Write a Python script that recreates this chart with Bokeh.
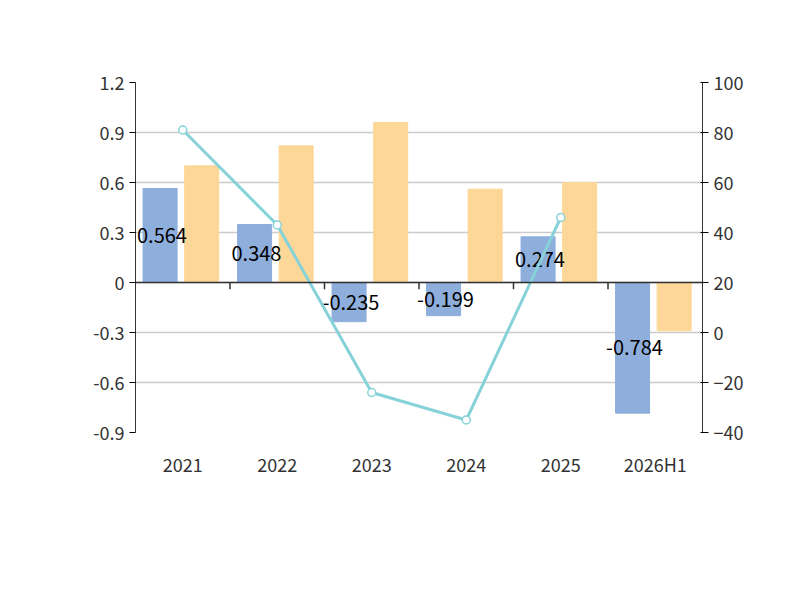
from bokeh.plotting import figure
from bokeh.models import Range1d, LinearAxis, Legend, LegendItem, FixedTicker, Label, ColumnDataSource, Span
from bokeh.embed import file_html
from bokeh.resources import INLINE
from bokeh.core.properties import value

years = ["2021", "2022", "2023", "2024", "2025", "2026H1"]
cashflow = [0.564, 0.348, -0.235, -0.199, 0.274, -0.784]
profit = [0.70, 0.82, 0.96, 0.56, 0.60, -0.29]
ratio = [81, 43, -24, -35, 46]

F = "Noto Sans CJK SC"
x = list(range(len(years)))
p = figure(frame_width=567, frame_height=350, output_backend="svg", toolbar_location=None,
           x_range=Range1d(-0.5, 5.5), y_range=Range1d(-0.9, 1.2),
           min_border_left=135, min_border_right=82, min_border_top=82, min_border_bottom=152)
p.extra_y_ranges = {"pct": Range1d(-40, 100)}
p.outline_line_color = None
p.xgrid.grid_line_color = None
p.ygrid.grid_line_color = "#cccccc"
p.ygrid.grid_line_width = 1.5
p.yaxis.ticker = FixedTicker(ticks=[-0.9, -0.6, -0.3, 0, 0.3, 0.6, 0.9, 1.2])
p.yaxis.major_label_overrides = {-0.9: "-0.9", -0.6: "-0.6", -0.3: "-0.3", 0: "0", 0.3: "0.3", 0.6: "0.6", 0.9: "0.9", 1.2: "1.2"}
p.xaxis.ticker = FixedTicker(ticks=x)
p.xaxis.major_label_overrides = {i: y for i, y in enumerate(years)}
p.xaxis.major_tick_line_color = None
ra = LinearAxis(y_range_name="pct", ticker=FixedTicker(ticks=[-40, -20, 0, 20, 40, 60, 80, 100]))
p.add_layout(ra, "right")
for ax in [p.yaxis[0], ra, p.xaxis[0]]:
    ax.major_label_text_font = F
    ax.major_label_text_font_size = "18px"
    ax.major_label_text_color = "#333333"
    ax.axis_line_color = "#333333"
    ax.minor_tick_line_color = None
p.xaxis[0].axis_line_color = None
p.xaxis[0].major_label_standoff = 12
p.yaxis[0].major_tick_out = 6
p.yaxis[0].major_tick_in = 0
ra.major_tick_out = 6

src = ColumnDataSource(dict(xc=[i - 0.24 for i in x], xp=[i + 0.2 for i in x], cf=cashflow, pr=profit,
                            ym=[c / 2 for c in cashflow], lbl=[str(c) for c in cashflow], xl=[i - 0.22 for i in x]))
b1 = p.vbar(x="xc", top="cf", bottom=0, width=0.36, color="#8eaedc", source=src)
b2 = p.vbar(x="xp", top="pr", bottom=0, width=0.36, color="#fdd797", source=src)
p.add_layout(Span(location=0, dimension="width", line_color="#333333", line_width=1.5))
p.segment(x0=[i + 0.5 for i in range(5)], x1=[i + 0.5 for i in range(5)], y0=[0] * 5, y1=[-0.04] * 5, line_color="#333333", line_width=1.5)
p.text(x="xl", y="ym", text="lbl", source=src, text_align="center", text_baseline="middle",
       text_font=value(F), text_font_size="20px", text_color="#000000")
l1 = p.line(x[:5], ratio, y_range_name="pct", line_color="#86d2d8", line_width=3)
s1 = p.scatter(x[:5], ratio, y_range_name="pct", size=8, fill_color="white", line_color="#86d2d8", line_width=1.5)

leg = Legend(items=[LegendItem(label="经营活动现金流净额", renderers=[b1]),
                    LegendItem(label="归母净利润", renderers=[b2]),
                    LegendItem(label="净现比", renderers=[l1, s1])],
             orientation="horizontal", location=(-58, -107), border_line_color=None,
             background_fill_alpha=0,
             label_text_font=F, label_text_font_size="20px", label_text_color="#333333",
             glyph_width=48, glyph_height=24, spacing=30, margin=0, padding=0)
p.add_layout(leg, "center")

def lab(xx, yy, t, size, color, bold=False, angle=0):
    p.add_layout(Label(x=xx, y=yy, text=t, angle=angle, text_font=F, text_font_size=size,
                       text_font_style="bold" if bold else "normal", text_color=color,
                       text_align="center", text_baseline="middle"))

lab(2.225, 1.608, "历年经营现金净额、归母净利润情况", "25px", "#333333", bold=True)
lab(-1.22, 1.05, "(亿元)", "16px", "red", angle=1.5708)
lab(6.31, 1.19, "%", "16px", "red", angle=-1.5708)
lab(2.225, -1.8, "制图数据来自恒生聚源数据库", "15px", "#c8962a")

open("out.html", "w").write(file_html(p, INLINE))
